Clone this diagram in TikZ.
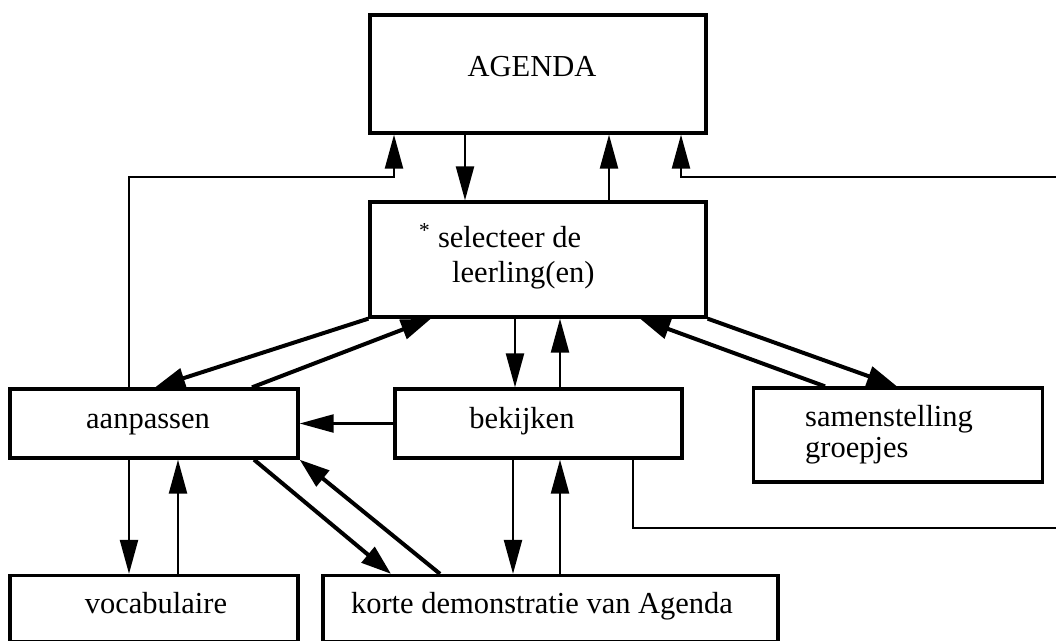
\documentclass[tikz,border=0pt]{standalone}
\usepackage{fontspec}
\setmainfont{Liberation Serif}
\usetikzlibrary{arrows.meta}
\begin{document}
\begin{tikzpicture}[x=1pt,y=-1pt,
  box/.style={draw, line width=3.3pt, rectangle, inner sep=0pt},
  lbl/.style={font=\fontsize{30.5}{34}\selectfont, inner sep=0pt, anchor=base},
  lbll/.style={lbl, anchor=base west},
  thinln/.style={line width=2.3pt},
  arr/.style={thinln, -{Triangle[length=34pt,width=18pt]}},
  fat/.style={line width=4pt},
  fatarr/.style={fat, -{Triangle[length=30pt,width=20pt]}},
]
\useasboundingbox (0,0) rectangle (1056,640);
\clip (0,0) rectangle (1056,640);

% boxes
\node[box, minimum width=336pt, minimum height=118pt] (agenda) at (538,74) {};
\node[box, minimum width=336pt, minimum height=115pt] (sel) at (538,259.5) {};
\node[box, minimum width=288pt, minimum height=69pt] (aan) at (154,423.5) {};
\node[box, minimum width=287pt, minimum height=69pt] (bek) at (538.5,423.5) {};
\node[box, minimum width=289pt, minimum height=94pt] (sam) at (898,435) {};
\node[box, minimum width=288pt, minimum height=66pt] (voc) at (154,608.5) {};
\node[box, minimum width=455pt, minimum height=66pt] (kor) at (550.5,608.5) {};

% labels
\node[lbl] (agendaT) at (532,76) {AGENDA};
\node[lbll] (selT1) at (419,247) {\textsuperscript{*} selecteer de};
\node[lbll] (selT2) at (452,282) {leerling(en)};
\node[lbl] (aanT) at (148,428) {aanpassen};
\node[lbl] (bekT) at (522,428) {bekijken};
\node[lbll] (samT1) at (805,426) {samenstelling};
\node[lbll] (samT2) at (805,457) {groepjes};
\node[lbl] (vocT) at (156,613) {vocabulaire};
\node[lbl] (korT) at (542,613) {korte demonstratie van Agenda};

% free ends at the right margin
\coordinate (lturn) at (129,177);
\coordinate (rtop) at (1056,177);
\coordinate (rbot) at (1056,528);

% AGENDA <-> selecteer
\draw[arr] (aan.north -| lturn) -- (lturn) -- (lturn -| 394,0) -- (agenda.south -| 394,0);
\draw[arr] (agenda.south -| 465,0) -- (sel.north -| 465,0);
\draw[arr] (sel.north -| 609,0) -- (agenda.south -| 609,0);
\draw[arr] (rtop) -- (rtop -| 681,0) -- (agenda.south -| 681,0);

% selecteer <-> second row
\draw[fatarr] (sel.south west) -- (aan.north -| 155,0);
\draw[fatarr] (aan.north -| 252,0) -- (sel.south -| 431,0);
\draw[arr] (sel.south -| 515,0) -- (bek.north -| 515,0);
\draw[arr] (bek.north -| 560,0) -- (sel.south -| 560,0);
\draw[fatarr] (sam.north -| 825,0) -- (sel.south -| 640,0);
\draw[fatarr] (sel.south east) -- (sam.north -| 897,0);

% second row
\draw[arr] (bek.west) -- (aan.east);
\draw[thinln] (bek.south -| 633,0) -- (rbot -| 633,0) -- (rbot);

% second row <-> bottom row
\draw[arr] (aan.south -| 129,0) -- (voc.north -| 129,0);
\draw[arr] (voc.north -| 178,0) -- (aan.south -| 178,0);
\draw[fatarr] (aan.south -| 254,0) -- (kor.north -| 391,0);
\draw[fatarr] (kor.north -| 440,0) -- (aan.south east);
\draw[arr] (bek.south -| 513,0) -- (kor.north -| 513,0);
\draw[arr] (kor.north -| 560,0) -- (bek.south -| 560,0);
\end{tikzpicture}
\end{document}
